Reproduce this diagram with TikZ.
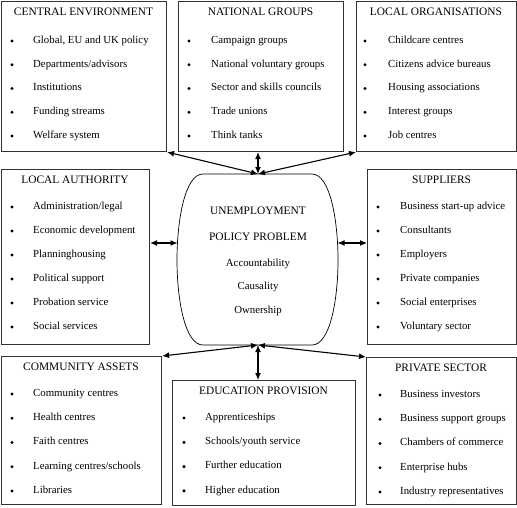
\documentclass[tikz,border=0pt]{standalone}
\usepackage{fontspec}
\setmainfont{Liberation Serif}
\newfontfamily\tms{Liberation Serif}
\usetikzlibrary{arrows.meta}
\tikzset{
  box/.style={draw=black!80, line width=1.1pt, inner sep=0pt, anchor=north west},
  ttl/.style={font=\tms\fontsize{11.4}{13}\selectfont, inner sep=0pt, anchor=mid},
  itm/.style={font=\tms\fontsize{10.8}{13}\selectfont, inner sep=0pt, anchor=mid west},
  ctr/.style={font=\tms\fontsize{10.8}{13}\selectfont, inner sep=0pt, anchor=mid},
  arr/.style={line width=1.1pt, {Latex[length=7pt,width=6pt]}-{Latex[length=7pt,width=6pt]}},
  oval/.style={draw=black, line width=0.7pt}
}
\newcommand{\mkbox}[5]{% name, x1, y1, x2, y2
  \node[box, minimum width={(#4-#2)*1pt}, minimum height={(#5-#3)*1pt}] (#1) at (#2,#3) {};}
\begin{document}
\begin{tikzpicture}[x=1pt,y=-1pt]
\useasboundingbox (0,0) rectangle (517,507);
% boxes
\mkbox{ce}{1}{1}{166}{151}
\mkbox{ng}{178}{1}{343}{151}
\mkbox{lo}{356}{1}{516}{151}
\mkbox{la}{1}{169}{149}{344}
\mkbox{su}{367}{169}{516}{344}
\mkbox{ca}{1}{356}{161}{504}
\mkbox{ed}{172}{380}{355}{505}
\mkbox{ps}{366}{357}{516}{504}
% titles
\node[ttl] (ce-t) at (83.5,13) {CENTRAL ENVIRONMENT};
\node[ttl] (ng-t) at (260.5,13) {NATIONAL GROUPS};
\node[ttl] (lo-t) at (436,13) {LOCAL ORGANISATIONS};
\node[ttl] (la-t) at (75,181) {LOCAL AUTHORITY};
\node[ttl] (su-t) at (441.5,181) {SUPPLIERS};
\node[ttl] (ca-t) at (81,368) {COMMUNITY ASSETS};
\node[ttl] (ed-t) at (263.5,392) {EDUCATION PROVISION};
\node[ttl] (ps-t) at (441,369) {PRIVATE SECTOR};
% items
\foreach \t [count=\i] in {{Global, EU and UK policy},Departments/advisors,Institutions,Funding streams,Welfare system}{
  \fill (12,{41+(\i-1)*23.75}) circle (1.7);
  \node[itm] (ce-\i) at (33,{41+(\i-1)*23.75}) {\t};}
\foreach \t [count=\i] in {Campaign groups,National voluntary groups,Sector and skills councils,Trade unions,Think tanks}{
  \fill (189,{41+(\i-1)*23.75}) circle (1.7);
  \node[itm] (ng-\i) at (211,{41+(\i-1)*23.75}) {\t};}
\foreach \t [count=\i] in {Childcare centres,Citizens advice bureaus,Housing associations,Interest groups,Job centres}{
  \fill (365,{41+(\i-1)*23.75}) circle (1.7);
  \node[itm] (lo-\i) at (388,{41+(\i-1)*23.75}) {\t};}
\foreach \t [count=\i] in {Administration/legal,Economic development,Planninghousing,Political support,Probation service,Social services}{
  \fill (12,{207+(\i-1)*24}) circle (1.7);
  \node[itm] (la-\i) at (33,{207+(\i-1)*24}) {\t};}
\foreach \t [count=\i] in {Business start-up advice,Consultants,Employers,Private companies,Social enterprises,Voluntary sector}{
  \fill (378,{207+(\i-1)*24}) circle (1.7);
  \node[itm] (su-\i) at (400,{207+(\i-1)*24}) {\t};}
\foreach \t [count=\i] in {Community centres,Health centres,Faith centres,Learning centres/schools,Libraries}{
  \fill (12,{394+(\i-1)*24.25}) circle (1.7);
  \node[itm] (ca-\i) at (33,{394+(\i-1)*24.25}) {\t};}
\foreach \t [count=\i] in {Apprenticeships,Schools/youth service,Further education,Higher education}{
  \fill (184,{418+(\i-1)*24.3}) circle (1.7);
  \node[itm] (ed-\i) at (205,{418+(\i-1)*24.3}) {\t};}
\foreach \t [count=\i] in {Business investors,Business support groups,Chambers of commerce,Enterprise hubs,Industry representatives}{
  \fill (380,{395+(\i-1)*24.25}) circle (1.7);
  \node[itm] (ps-\i) at (400,{395+(\i-1)*24.25}) {\t};}
% central shape
\draw[oval] (203,174) -- (312,174)
  .. controls (330,174) and (338,220) .. (338,260)
  .. controls (338,300) and (330,345) .. (312,345)
  -- (203,345)
  .. controls (185,345) and (177,300) .. (177,260)
  .. controls (177,220) and (185,174) .. (203,174) -- cycle;
\coordinate (pt) at (258,174);
\coordinate (pb) at (258,345);
\coordinate (pl) at (177.5,243);
\coordinate (pr) at (337.5,243);
\node[ttl] (c1) at (258,212) {UNEMPLOYMENT};
\node[ttl] (c2) at (258,238) {POLICY PROBLEM};
\node[ctr] (c3) at (258,264) {Accountability};
\node[ctr] (c4) at (258,287) {Causality};
\node[ctr] (c5) at (258,311) {Ownership};
% connectors
\draw[arr] (ce.south east) -- (pt);
\draw[arr] (pt |- ng.south) -- (pt);
\draw[arr] (lo.south west) -- (pt);
\draw[arr] (pl -| la.east) -- (pl);
\draw[arr] (pr) -- (pr -| su.west);
\draw[arr] (pb) -- (ca.north east);
\draw[arr] (pb) -- (pb |- ed.north);
\draw[arr] (pb) -- (ps.north west);
\end{tikzpicture}
\end{document}
